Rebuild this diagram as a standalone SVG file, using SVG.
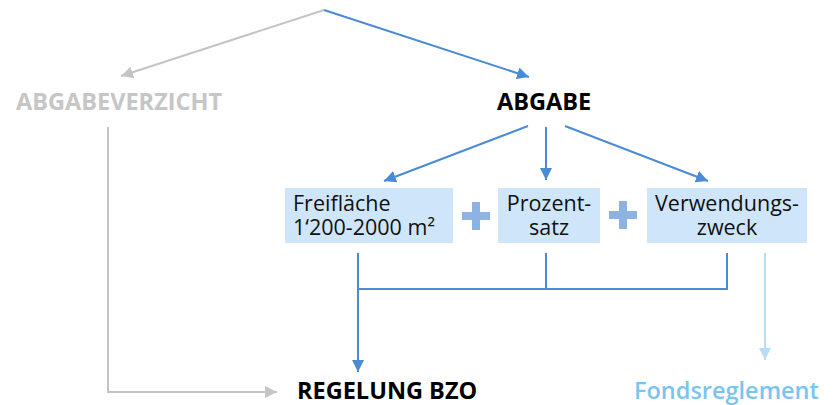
<svg xmlns="http://www.w3.org/2000/svg" width="834" height="405" viewBox="0 0 834 405">
<defs>
<style>
.t{font-family:"Open Sans","Noto Sans","Liberation Sans",sans-serif}
.h{font-weight:bold;font-size:23.5px}
.b{font-size:21.5px;fill:#111}
.box{fill:#cfe6fa}
.bl{stroke:#4a8bd6;stroke-width:2;fill:none}
.gr{stroke:#c4c4c4;stroke-width:2;fill:none}
.lb{stroke:#b8ddf5;stroke-width:2;fill:none}
.plus{fill:#8db3e2}
</style>
<marker id="ab" viewBox="0 0 10 10" refX="10" refY="5" markerWidth="6" markerHeight="6" markerUnits="strokeWidth" orient="auto"><path d="M0,0 L10,5 L0,10 z" fill="#4a8bd6"/></marker>
<marker id="ag" viewBox="0 0 10 10" refX="10" refY="5" markerWidth="6" markerHeight="6" markerUnits="strokeWidth" orient="auto"><path d="M0,0 L10,5 L0,10 z" fill="#c4c4c4"/></marker>
<marker id="al" viewBox="0 0 10 10" refX="10" refY="5" markerWidth="6" markerHeight="6" markerUnits="strokeWidth" orient="auto"><path d="M0,0 L10,5 L0,10 z" fill="#b8ddf5"/></marker>
</defs>
<g id="connectors">
<line class="gr" x1="324" y1="10" x2="121" y2="76" marker-end="url(#ag)"/>
<line class="bl" x1="324" y1="10" x2="529" y2="77" marker-end="url(#ab)"/>
<line class="bl" x1="528" y1="126" x2="384" y2="181" marker-end="url(#ab)"/>
<line class="bl" x1="546" y1="127" x2="546" y2="180" marker-end="url(#ab)"/>
<line class="bl" x1="565" y1="126" x2="708" y2="181" marker-end="url(#ab)"/>
<line class="bl" x1="358" y1="253" x2="358" y2="372" marker-end="url(#ab)"/>
<polyline class="bl" points="358,289 727,289 727,253"/>
<line class="bl" x1="546" y1="253" x2="546" y2="289"/>
<polyline class="gr" points="108,127 108,392 277,392" marker-end="url(#ag)"/>
<line class="lb" x1="765" y1="253" x2="765" y2="360" marker-end="url(#al)"/>
</g>
<g id="abgabeverzicht"><text class="t h" x="16" y="110" fill="#c6c6c6">ABGABEVERZICHT</text></g>
<g id="abgabe"><text class="t h" x="497" y="110" fill="#000">ABGABE</text></g>
<g id="freiflaeche">
<rect class="box" x="285" y="188" width="168" height="55"/>
<text class="t b" x="293" y="211">Freifläche</text>
<text class="t b" x="293" y="235">1‘200-2000 m²</text>
</g>
<g id="plus1"><rect class="plus" x="462" y="212" width="28" height="8"/><rect class="plus" x="472" y="202" width="8" height="28"/></g>
<g id="prozentsatz">
<rect class="box" x="498" y="188" width="102" height="55"/>
<text class="t b" x="549" y="211" text-anchor="middle">Prozent-</text>
<text class="t b" x="549" y="235" text-anchor="middle">satz</text>
</g>
<g id="plus2"><rect class="plus" x="609" y="211" width="28" height="8"/><rect class="plus" x="619" y="201" width="8" height="28"/></g>
<g id="verwendungszweck">
<rect class="box" x="647" y="188" width="160" height="55"/>
<text class="t b" x="727" y="211" text-anchor="middle">Verwendungs-</text>
<text class="t b" x="727" y="235" text-anchor="middle">zweck</text>
</g>
<g id="regelung"><text class="t h" x="297" y="399" fill="#000">REGELUNG BZO</text></g>
<g id="fondsreglement"><text class="t h" x="634" y="399" fill="#7cc4f0" style="font-weight:600">Fondsreglement</text></g>
</svg>
